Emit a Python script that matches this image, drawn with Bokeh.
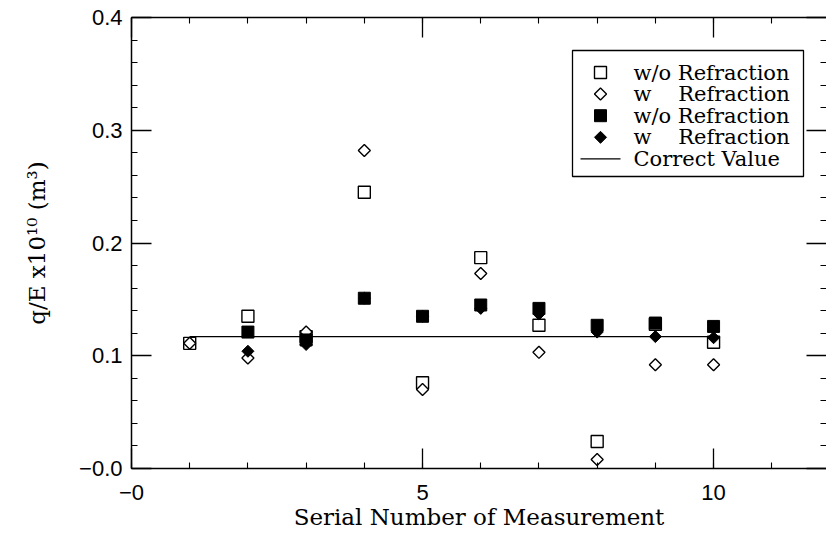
from bokeh.plotting import figure
from bokeh.models import Range1d, LinearAxis, FixedTicker
from bokeh.core.properties import value
from bokeh.embed import file_html
from bokeh.resources import INLINE
import math

# Serial number of each measurement
measurement = [1, 2, 3, 4, 5, 6, 7, 8, 9, 10]

# q/E x10^10 (m^3) estimates, open markers
open_without_refraction = [0.111, 0.135, 0.117, 0.245, 0.076, 0.187, 0.127, 0.024, 0.128, 0.112]
open_with_refraction = [0.111, 0.098, 0.121, 0.282, 0.070, 0.173, 0.103, 0.008, 0.092, 0.092]

# q/E x10^10 (m^3) estimates, filled markers
nan = float("nan")
filled_without_refraction = [nan, 0.121, 0.114, 0.151, 0.135, 0.145, 0.142, 0.127, 0.129, 0.126]
filled_with_refraction = [nan, 0.104, 0.110, 0.151, 0.135, 0.142, 0.137, 0.121, 0.117, 0.116]

# Reference (correct) value drawn across the measurement span
correct_value = 0.117
correct_span = [1, 10]

legend_labels = ["w/o Refraction", "w\u00a0\u00a0\u00a0\u00a0Refraction",
                 "w/o Refraction", "w\u00a0\u00a0\u00a0\u00a0Refraction", "Correct Value"]

x_ticks = [0, 5, 10]
x_minor = list(range(0, 13))
x_tick_labels = ["\u22120", "5", "10"]
y_ticks = [0.0, 0.1, 0.2, 0.3, 0.4]
y_minor = [round(0.02 * i, 2) for i in range(0, 21)]
y_tick_labels = ["\u22120.0", "0.1", "0.2", "0.3", "0.4"]

SERIF = "DejaVu Serif"
SANS = "Liberation Sans"

# Canvas geometry of the plotting frame
W, H = 826, 538
FRAME_L, FRAME_R, FRAME_T, FRAME_B = 131, 826, 17, 468
X_END, Y_END = 11.94, 0.4

p = figure(width=W, height=H, output_backend="svg", toolbar_location=None,
           x_range=Range1d(0, X_END), y_range=Range1d(0, Y_END),
           x_axis_location=None, y_axis_location=None,
           min_border_left=FRAME_L, min_border_right=W - FRAME_R,
           min_border_top=FRAME_T, min_border_bottom=H - FRAME_B)
p.grid.visible = False
p.outline_line_color = None
p.background_fill_color = "white"
p.border_fill_color = "white"


def styled_axis(ticks, minor, labels, show_line=True, show_labels=True):
    ax = LinearAxis(ticker=FixedTicker(ticks=ticks, minor_ticks=minor))
    ax.major_tick_in = 20
    ax.major_tick_out = 0
    ax.minor_tick_in = 6
    ax.minor_tick_out = 0
    ax.major_tick_line_width = 1.3
    ax.minor_tick_line_width = 1.1
    ax.major_tick_line_color = "black"
    ax.minor_tick_line_color = "black"
    ax.axis_line_width = 1.5
    ax.axis_line_color = "black" if show_line else None
    if show_labels:
        ax.major_label_overrides = {t: s for t, s in zip(ticks, labels)}
        ax.major_label_text_font = SANS
        ax.major_label_text_font_size = "22px"
        ax.major_label_text_color = "black"
    else:
        ax.major_label_overrides = {t: "" for t in ticks}
        ax.major_label_standoff = 0
    return ax


xb = styled_axis(x_ticks, x_minor, x_tick_labels)
xb.major_label_standoff = 16
xb.axis_label = "Serial Number of Measurement"
xb.axis_label_text_font = SERIF
xb.axis_label_text_font_size = "23px"
xb.axis_label_text_font_style = "normal"
xb.axis_label_text_color = "black"
xb.axis_label_standoff = 1
p.add_layout(xb, "below")

xt = styled_axis(x_ticks, x_minor, x_tick_labels, show_labels=False)
p.add_layout(xt, "above")

yl = styled_axis(y_ticks, y_minor, y_tick_labels)
yl.major_label_standoff = 9
yl.axis_label = "q/E x10\u00b9\u2070 (m\u00b3)"
yl.axis_label_text_font = SERIF
yl.axis_label_text_font_size = "23px"
yl.axis_label_text_font_style = "normal"
yl.axis_label_text_color = "black"
yl.axis_label_standoff = 26
p.add_layout(yl, "left")

yr = styled_axis(y_ticks, y_minor, y_tick_labels, show_line=False, show_labels=False)
p.add_layout(yr, "right")

# Marker styles
open_square = dict(marker="square", size=12, fill_color="white", line_color="black", line_width=1.4)
open_diamond = dict(marker="square", angle=math.pi / 4, size=8.5, fill_color="white",
                    line_color="black", line_width=1.4)
filled_square = dict(marker="square", size=12, fill_color="black", line_color="black", line_width=1.0)
filled_diamond = dict(marker="square", angle=math.pi / 4, size=8.5, fill_color="black",
                      line_color="black", line_width=1.0)
line_style = dict(line_color="black", line_width=1.3)

# Data markers: open (white-filled) first, filled on top
p.scatter(measurement, open_without_refraction, **open_square)
p.scatter(measurement, open_with_refraction, **open_diamond)
p.scatter(measurement, filled_without_refraction, **filled_square)
p.scatter(measurement, filled_with_refraction, **filled_diamond)
p.line(correct_span, [correct_value, correct_value], **line_style)


# Key box, laid out in canvas pixels and mapped to data units
def px_x(px):
    return (px - FRAME_L) / (FRAME_R - FRAME_L) * X_END


def px_y(py):
    return (FRAME_B - py) / (FRAME_B - FRAME_T) * Y_END


key_left, key_right, key_top, key_bottom = 572, 803, 50, 176
row_pitch = 21.6
row_y = [px_y(key_top + 22 + i * row_pitch) for i in range(len(legend_labels))]
sym_left, sym_right = 580, 620
sym_x = px_x((sym_left + sym_right) / 2)
text_x = px_x(633)

p.quad(left=[px_x(key_left)], right=[px_x(key_right)], top=[px_y(key_top)],
       bottom=[px_y(key_bottom)], fill_color="white", line_color="black", line_width=1.3)
for style, yy in zip([open_square, open_diamond, filled_square, filled_diamond], row_y[:4]):
    p.scatter([sym_x], [yy], **style)
p.line([px_x(sym_left), px_x(sym_right)], [row_y[4], row_y[4]], **line_style)
p.text(x=[text_x] * len(legend_labels), y=row_y, text=legend_labels,
       text_font=value(SERIF), text_font_size="21px", text_color="black",
       text_baseline="middle", text_align="left")

open("out.html", "w").write(file_html(p, INLINE))
